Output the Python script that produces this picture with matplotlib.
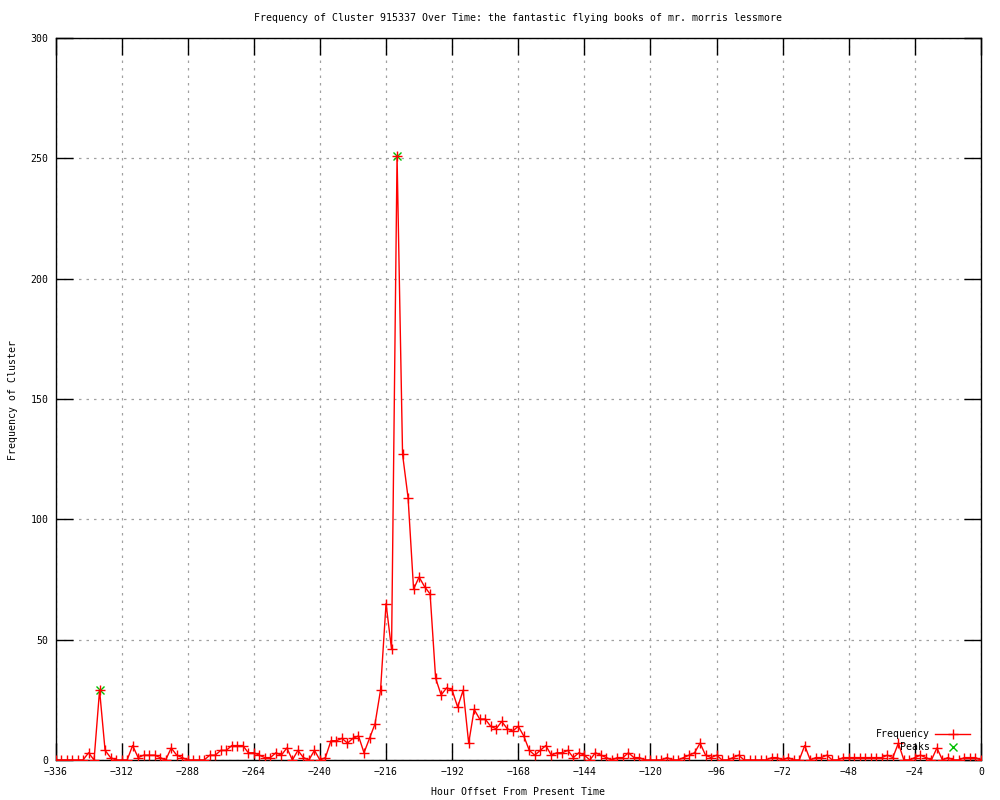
import numpy as np
import matplotlib
matplotlib.use("Agg")
import matplotlib.pyplot as plt
from matplotlib.lines import Line2D

# ---- data ----
hours = list(range(-336, 1, 2))
frequency = [
    0, 0, 0, 0, 0, 0, 3, 0, 29, 4, 1, 0, 0, 0, 6, 1, 2, 2, 2, 1,
    0, 5, 2, 1, 0, 0, 0, 0, 2, 2, 4, 4, 6, 6, 6, 3, 3, 2, 1, 1,
    3, 2, 5, 0, 4, 1, 0, 4, 0, 1, 8, 8, 9, 7, 9, 10, 3, 9, 15, 29,
    65, 46, 251, 127, 109, 71, 76, 72, 69, 34, 27, 30, 29, 22, 29, 7, 21, 17, 17, 14,
    13, 16, 13, 12, 14, 10, 4, 2, 4, 6, 2, 3, 3, 4, 1, 3, 2, 0, 3, 2,
    1, 0, 1, 1, 3, 1, 1, 0, 0, 0, 0, 1, 0, 0, 1, 2, 3, 7, 2, 1,
    2, 0, 0, 1, 2, 0, 0, 0, 0, 0, 1, 1, 0, 1, 0, 0, 6, 0, 1, 1,
    2, 0, 0, 1, 1, 1, 1, 1, 1, 1, 1, 2, 1, 7, 0, 0, 1, 2, 1, 0,
    5, 0, 1, 0, 0, 1, 1, 1, 0,
]
peak_hours = [-320, -212]
peak_values = [29, 251]

x_ticks = [-336, -312, -288, -264, -240, -216, -192, -168, -144, -120, -96, -72, -48, -24, 0]
y_ticks = [0, 50, 100, 150, 200, 250, 300]

title = "Frequency of Cluster 915337 Over Time: the fantastic flying books of mr. morris lessmore"
xlabel = "Hour Offset From Present Time"
ylabel = "Frequency of Cluster"

# ---- style ----
FONT = "DejaVu Sans Mono"
FS = 7.1
plt.rcParams["font.family"] = [FONT]

fig = plt.figure(figsize=(10, 8), dpi=100)
ax = fig.add_axes([55.5 / 1000, 40 / 800, (981 - 55.5) / 1000, (760 - 38) / 800])

ax.plot(hours, frequency, color="#ff0000", lw=1.0, marker="+", ms=7, mew=1.0,
        label="Frequency", zorder=4)
ax.plot(peak_hours, peak_values, ls="none", color="#00c000", marker="x", ms=6, mew=1.0,
        label="Peaks", zorder=3)

ax.set_xlim(-336, 0)
ax.set_ylim(0, 300)
ax.set_xticks(x_ticks)
ax.set_yticks(y_ticks)
ax.set_xticklabels(["\u2212%d" % -t if t < 0 else "%d" % t for t in x_ticks], fontsize=FS)
ax.set_yticklabels([str(t) for t in y_ticks], fontsize=FS)
ax.tick_params(direction="in", length=12, width=1.0, top=True, right=True,
               labelsize=FS, pad=5, color="black")
ax.grid(True, color="#a0a0a0", ls=(0, (2, 4)), lw=0.9)
ax.set_axisbelow(True)
for s in ax.spines.values():
    s.set_linewidth(1.0)
    s.set_color("black")

fig.text(518 / 1000, 1 - 18 / 800, title, ha="center", va="center", fontsize=FS)
fig.text(518 / 1000, 1 - 792 / 800, xlabel, ha="center", va="center", fontsize=FS)
fig.text(13 / 1000, 1 - 400 / 800, ylabel, ha="center", va="center", rotation=90, fontsize=FS)

h1 = Line2D([], [], color="#ff0000", lw=1.0, marker="+", ms=7, mew=1.0)
h2 = Line2D([], [], ls="none", color="#00c000", marker="x", ms=6, mew=1.0)
leg = ax.legend([h1, h2], ["Frequency", "Peaks"], loc="lower right",
                bbox_to_anchor=(970 / 1000, 1 - 752 / 800), bbox_transform=fig.transFigure,
                frameon=False, markerfirst=False, fontsize=FS, handlelength=3.5,
                handletextpad=0.6, labelspacing=0.3, borderpad=0, borderaxespad=0)

fig.savefig("out.png", dpi=100)
